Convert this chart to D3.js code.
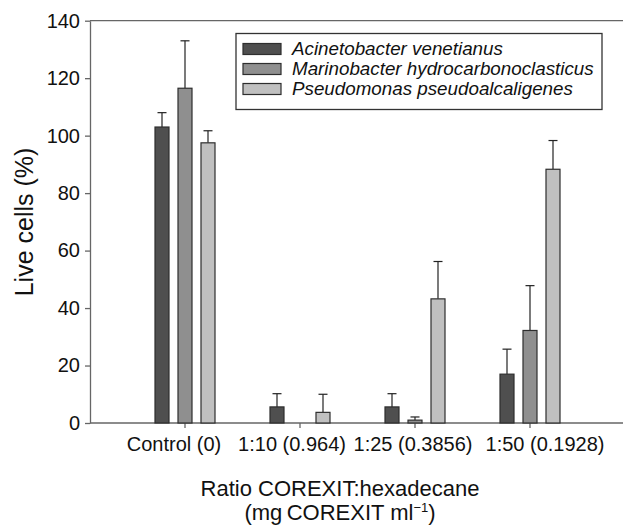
<!DOCTYPE html>
<html lang="en">
<head>
<meta charset="UTF-8">
<title>Live cells</title>
<script src="https://cdn.jsdelivr.net/npm/d3@7"></script>
<style>
  body { margin: 0; background: #fff; }
  text { font-family: "Liberation Sans", Arial, sans-serif; fill: #111; }
</style>
</head>
<body>
<div id="chart"></div>
<script>

var categories = ["Control (0)", "1:10 (0.964)", "1:25 (0.3856)", "1:50 (0.1928)"];
var series = ["Acinetobacter venetianus", "Marinobacter hydrocarbonoclasticus", "Pseudomonas pseudoalcaligenes"];
var values = [
    [103, 5.6, 5.6, 17],
    [116.5, 0, 1, 32.2],
    [97.5, 3.7, 43.2, 88.3]
];
var errors = [
    [5, 4.6, 4.6, 8.7],
    [16.5, 0, 1.1, 15.6],
    [4.2, 6.3, 13, 10]
];
var yTicks = [0, 20, 40, 60, 80, 100, 120, 140];
var colors = ["#4f4f4f", "#8f8f8f", "#c0c0c0"];

var w = 623, h = 526;
var svg = d3.select("#chart").append("svg")
    .attr("width", w)
    .attr("height", h);

var plotLeft = 90, plotRight = 623, plotTop = 20.7, plotBottom = 423;

var y = d3.scaleLinear().domain([0, 140]).range([plotBottom, plotTop]);
var x = d3.scaleBand().domain(categories).range([127.5, 587.5]);
var xSub = d3.scaleBand().domain(series).range([-30, 30])
    .paddingInner(9 / 23).paddingOuter(0);

// frame lines
svg.append("line")
    .attr("x1", plotLeft).attr("x2", plotRight)
    .attr("y1", y(140)).attr("y2", y(140))
    .attr("stroke", "#666").attr("stroke-width", 1.3);
svg.append("line")
    .attr("x1", plotLeft).attr("x2", plotRight)
    .attr("y1", y(0)).attr("y2", y(0))
    .attr("stroke", "#666").attr("stroke-width", 1.3);

// y axis
var yAxis = svg.append("g")
    .attr("transform", "translate(" + plotLeft + ",0)")
    .call(d3.axisLeft(y).tickValues(yTicks).tickSize(5).tickSizeOuter(0).tickPadding(5));
yAxis.select(".domain").attr("stroke", "#666").attr("stroke-width", 1.3);
yAxis.selectAll(".tick line").attr("stroke", "#666").attr("stroke-width", 1.3);
yAxis.selectAll(".tick text")
    .style("font-family", "Liberation Sans, Arial, sans-serif")
    .style("font-size", "20px").attr("fill", "#111");

// x axis
var labelShift = [-11, -8, -2, 15];
var xAxis = svg.append("g")
    .attr("transform", "translate(0," + plotBottom + ")")
    .call(d3.axisBottom(x).tickSize(5).tickSizeOuter(0).tickPadding(9));
xAxis.select(".domain").remove();
xAxis.selectAll(".tick line").attr("stroke", "#666").attr("stroke-width", 1.3);
xAxis.selectAll(".tick text")
    .style("font-family", "Liberation Sans, Arial, sans-serif")
    .style("font-size", "20px").attr("fill", "#111")
    .attr("dx", function(d, i) { return labelShift[i]; });

// bars
var groups = svg.selectAll("g.series").data(series)
    .enter().append("g")
    .attr("class", "series");

groups.each(function(s, si) {
    var g = d3.select(this);
    var pts = categories.map(function(c, ci) {
        return { c: c, v: values[si][ci], e: errors[si][ci] };
    });
    var cx = function(d) { return x(d.c) + x.bandwidth() / 2 + xSub(s); };

    // error bars
    var eb = g.selectAll("g.err").data(pts.filter(function(d) { return d.e > 0; }))
        .enter().append("g").attr("class", "err");
    eb.append("line")
        .attr("x1", function(d) { return cx(d) + xSub.bandwidth() / 2; })
        .attr("x2", function(d) { return cx(d) + xSub.bandwidth() / 2; })
        .attr("y1", function(d) { return y(d.v); })
        .attr("y2", function(d) { return y(d.v + d.e); })
        .attr("stroke", "#222").attr("stroke-width", 1.2);
    eb.append("line")
        .attr("x1", function(d) { return cx(d) + xSub.bandwidth() / 2 - 4.5; })
        .attr("x2", function(d) { return cx(d) + xSub.bandwidth() / 2 + 4.5; })
        .attr("y1", function(d) { return y(d.v + d.e); })
        .attr("y2", function(d) { return y(d.v + d.e); })
        .attr("stroke", "#222").attr("stroke-width", 1.2);

    g.selectAll("rect").data(pts.filter(function(d) { return d.v > 0; }))
        .enter().append("rect")
        .attr("x", cx)
        .attr("y", function(d) { return y(d.v); })
        .attr("width", xSub.bandwidth())
        .attr("height", function(d) { return y(0) - y(d.v); })
        .attr("fill", colors[si])
        .attr("stroke", "#2e2e2e")
        .attr("stroke-width", 1.2);
});

// legend
var legend = svg.append("g").attr("transform", "translate(236,33.5)");
legend.append("rect")
    .attr("width", 366).attr("height", 76)
    .attr("fill", "#fff").attr("stroke", "#333").attr("stroke-width", 1.3);
var li = legend.selectAll("g.item").data(series)
    .enter().append("g").attr("class", "item")
    .attr("transform", function(d, i) { return "translate(0," + (i * 20) + ")"; });
li.append("rect")
    .attr("x", 7).attr("y", 10)
    .attr("width", 38).attr("height", 11)
    .attr("fill", function(d, i) { return colors[i]; })
    .attr("stroke", "#2e2e2e").attr("stroke-width", 1.2);
li.append("text")
    .attr("x", 56).attr("y", 21.5)
    .style("font-size", "18.8px").style("font-style", "italic")
    .text(function(d) { return d; });

// axis titles
svg.append("text")
    .attr("transform", "translate(33,222) rotate(-90)")
    .attr("text-anchor", "middle")
    .style("font-size", "25px")
    .text("Live cells (%)");

svg.append("text")
    .attr("x", 340).attr("y", 496)
    .attr("text-anchor", "middle")
    .style("font-size", "22px")
    .text("Ratio COREXIT:hexadecane");

var xt2 = svg.append("text")
    .attr("x", 340).attr("y", 520)
    .attr("text-anchor", "middle")
    .style("font-size", "22px");
xt2.append("tspan").text("(mg\u2009COREXIT ml");
xt2.append("tspan").attr("dy", -8).style("font-size", "13px").text("\u22121");
xt2.append("tspan").attr("dy", 8).text(")");

</script>
</body>
</html>
